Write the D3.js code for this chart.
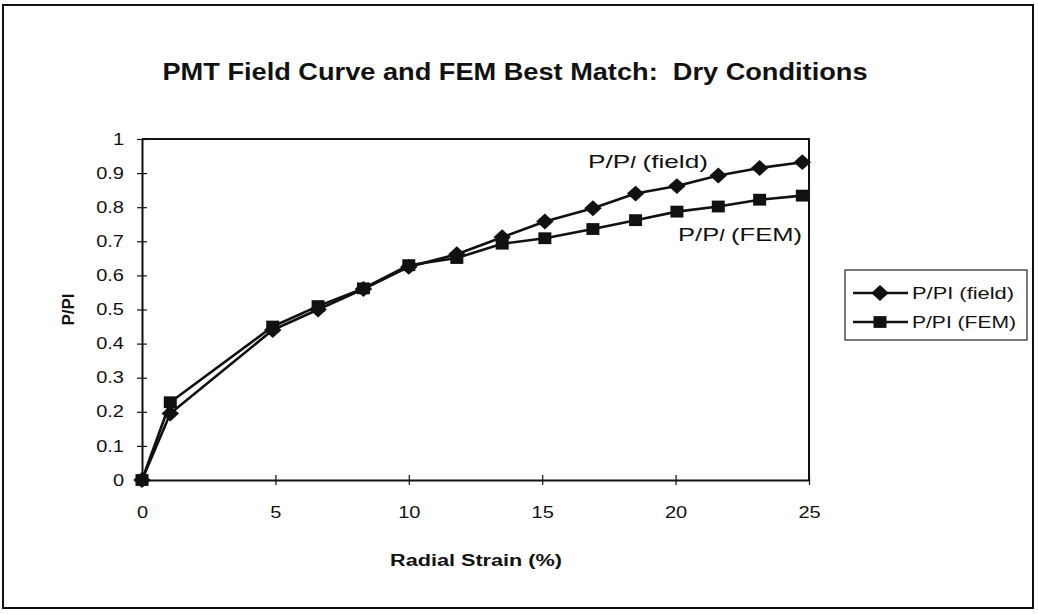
<!DOCTYPE html>
<html>
<head>
<meta charset="utf-8">
<script src="https://cdn.jsdelivr.net/npm/d3@7"></script>
<style>
  html, body { margin: 0; padding: 0; background: #fff; }
  svg { display: block; font-family: Arial, "Liberation Sans", sans-serif; }
</style>
</head>
<body>
<svg id="chart" width="1038" height="614"></svg>
<script>
// Radial strain (%) at each reading
const strain = [0, 1.06, 4.9, 6.6, 8.3, 10.0, 11.8, 13.5, 15.1, 16.9, 18.5, 20.05, 21.6, 23.15, 24.75];
// Normalised pressure P/Pl, field test
const fieldValues = [0, 0.195, 0.44, 0.50, 0.56, 0.625, 0.662, 0.712, 0.758, 0.797, 0.84, 0.862, 0.893, 0.915, 0.932];
// Normalised pressure P/Pl, finite element model
const femValues = [0, 0.228, 0.45, 0.51, 0.562, 0.63, 0.651, 0.693, 0.709, 0.736, 0.762, 0.787, 0.802, 0.822, 0.834];
const xTicks = [0, 5, 10, 15, 20, 25];
const yTicks = [0, 0.1, 0.2, 0.3, 0.4, 0.5, 0.6, 0.7, 0.8, 0.9, 1];
const seriesNames = ["P/PI (field)", "P/PI (FEM)"];

const svg = d3.select("#chart");

// widen text glyphs horizontally by a factor (the printed font is wide)
function widen(sel, factor) {
  sel.each(function () {
    const w = this.getComputedTextLength();
    d3.select(this).attr("textLength", w * factor).attr("lengthAdjust", "spacingAndGlyphs");
  });
  return sel;
}

// outer chart border
svg.append("rect")
  .attr("x", 3).attr("y", 5).attr("width", 1030).attr("height", 603)
  .attr("fill", "none").attr("stroke", "#111").attr("stroke-width", 2);

const plot = { left: 142, right: 809, top: 139, bottom: 480 };
const x = d3.scaleLinear().domain([0, 25]).range([plot.left, plot.right]);
const y = d3.scaleLinear().domain([0, 1]).range([plot.bottom, plot.top]);

// title
svg.append("text")
  .attr("x", 515).attr("y", 80)
  .attr("text-anchor", "middle")
  .attr("font-weight", "bold").attr("font-size", 23)
  .style("white-space", "pre")
  .attr("fill", "#111")
  .attr("textLength", 705).attr("lengthAdjust", "spacingAndGlyphs")
  .text("PMT Field Curve and FEM Best Match:  Dry Conditions");

// plot area frame (top and right)
svg.append("path")
  .attr("d", `M${plot.left},${plot.top}H${plot.right}V${plot.bottom}`)
  .attr("fill", "none").attr("stroke", "#111").attr("stroke-width", 2);

// axes with ticks crossing the axis line
const xAxis = d3.axisBottom(x).tickValues(xTicks).tickFormat(d3.format("d"))
  .tickSizeInner(5).tickSizeOuter(0).tickPadding(22);
const gx = svg.append("g").attr("transform", `translate(0,${plot.bottom})`).call(xAxis);
gx.selectAll(".tick line").attr("y1", -5).attr("y2", 5);

const yAxis = d3.axisLeft(y).tickValues(yTicks).tickFormat(d => d === 0 || d === 1 ? d3.format("d")(d) : d3.format(".1f")(d))
  .tickSizeInner(5).tickSizeOuter(0).tickPadding(13);
const gy = svg.append("g").attr("transform", `translate(${plot.left},0)`).call(yAxis);
gy.selectAll(".tick line").attr("x1", -5).attr("x2", 5);

[gx, gy].forEach(g => {
  g.select(".domain").attr("stroke", "#111").attr("stroke-width", 2);
  g.selectAll(".tick line").attr("stroke", "#111").attr("stroke-width", 1.2);
  widen(g.selectAll(".tick text").attr("font-size", 16).attr("fill", "#111")
    .attr("font-family", "Arial, 'Liberation Sans', sans-serif"), 1.25);
});

// axis titles
svg.append("text")
  .attr("x", 476).attr("y", 566)
  .attr("text-anchor", "middle").attr("font-weight", "bold").attr("font-size", 16)
  .attr("fill", "#111")
  .attr("textLength", 172).attr("lengthAdjust", "spacingAndGlyphs")
  .text("Radial Strain (%)");
svg.append("text")
  .attr("transform", `translate(74,${(plot.top + plot.bottom) / 2}) rotate(-90)`)
  .attr("text-anchor", "middle").attr("font-weight", "bold").attr("font-size", 17)
  .attr("fill", "#111").text("P/PI");

// series
const line = d3.line().x(d => x(d[0])).y(d => y(d[1]));
const fieldData = strain.map((s, i) => [s, fieldValues[i]]);
const femData = strain.map((s, i) => [s, femValues[i]]);

const diamond = d3.symbol().type(d3.symbolDiamond2).size(160);
const square = d3.symbol().type(d3.symbolSquare).size(140);

function drawSeries(data, sym) {
  svg.append("path").datum(data)
    .attr("d", line).attr("fill", "none")
    .attr("stroke", "#111").attr("stroke-width", 2.6).attr("stroke-linejoin", "round");
  svg.append("g").selectAll("path").data(data).join("path")
    .attr("transform", d => `translate(${x(d[0])},${y(d[1])}) scale(1.1,1)`)
    .attr("d", sym).attr("fill", "#111");
}
drawSeries(femData, square);
drawSeries(fieldData, diamond);

// in-plot series labels
function seriesLabel(px, py, width, suffix) {
  const t = svg.append("text").attr("x", px).attr("y", py)
    .attr("font-size", 19).attr("fill", "#111")
    .attr("textLength", width).attr("lengthAdjust", "spacingAndGlyphs");
  t.append("tspan").text("P/P");
  t.append("tspan").attr("font-style", "italic").attr("font-size", 16).text("l");
  t.append("tspan").text(" " + suffix);
}
seriesLabel(588, 168, 120, "(field)");
seriesLabel(678, 241, 124, "(FEM)");

// legend
const legend = svg.append("g");
legend.append("rect")
  .attr("x", 845).attr("y", 270).attr("width", 182).attr("height", 70)
  .attr("fill", "#fff").attr("stroke", "#222").attr("stroke-width", 1.2);
const legendRows = [
  { name: seriesNames[0], sym: diamond, cy: 293, w: 102 },
  { name: seriesNames[1], sym: square, cy: 322, w: 104 }
];
legendRows.forEach(r => {
  legend.append("line").attr("x1", 853).attr("x2", 908).attr("y1", r.cy).attr("y2", r.cy)
    .attr("stroke", "#111").attr("stroke-width", 2.4);
  legend.append("path").attr("transform", `translate(880,${r.cy}) scale(1.1,1)`)
    .attr("d", r.sym).attr("fill", "#111");
  legend.append("text").attr("x", 912).attr("y", r.cy + 6)
    .attr("font-size", 16).attr("fill", "#111")
    .attr("textLength", r.w).attr("lengthAdjust", "spacingAndGlyphs")
    .text(r.name);
});
</script>
</body>
</html>
